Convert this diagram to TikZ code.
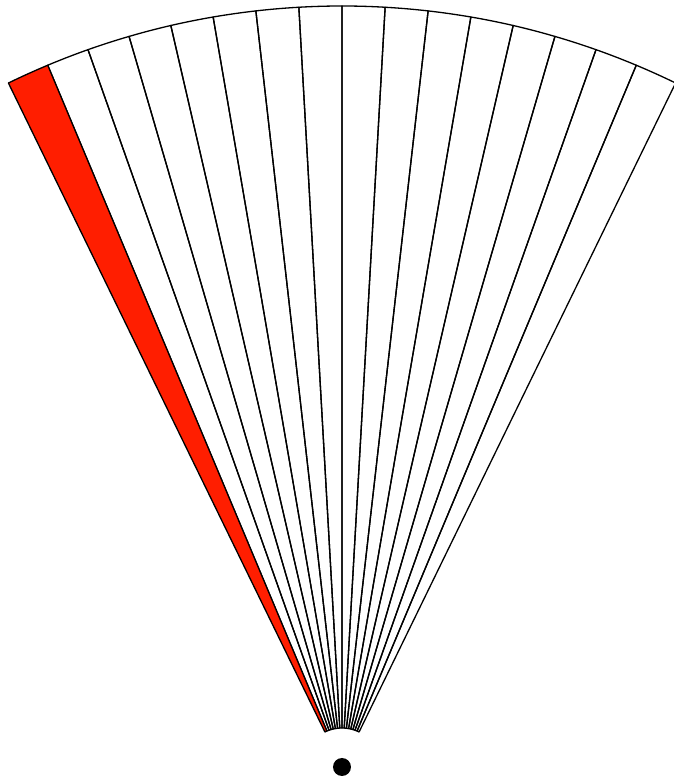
\documentclass[tikz,border=0pt]{standalone}
\definecolor{fanred}{RGB}{255,30,0}
\begin{document}
\begin{tikzpicture}[x=1pt,y=1pt,line width=1.3pt,line join=round,
  sector/.style={draw=black}]
\useasboundingbox (-342,-12) rectangle (332,767);
\def\rin{39}
\def\rout{761}
\foreach \i in {0,...,15}{
  \pgfmathsetmacro{\a}{64+3.25*\i}
  \pgfmathsetmacro{\b}{64+3.25*(\i+1)}
  \ifnum\i=15
    \filldraw[sector,fill=fanred] (\a:\rin) -- (\a:\rout) arc[start angle=\a,end angle=\b,radius=\rout] -- (\b:\rin) arc[start angle=\b,end angle=\a,radius=\rin] -- cycle;
  \else
    \draw[sector] (\a:\rin) -- (\a:\rout) arc[start angle=\a,end angle=\b,radius=\rout] -- (\b:\rin) arc[start angle=\b,end angle=\a,radius=\rin] -- cycle;
  \fi
}
\node[circle,fill=black,inner sep=0pt,minimum size=18pt] (dot) at (0,0) {};
\end{tikzpicture}
\end{document}
